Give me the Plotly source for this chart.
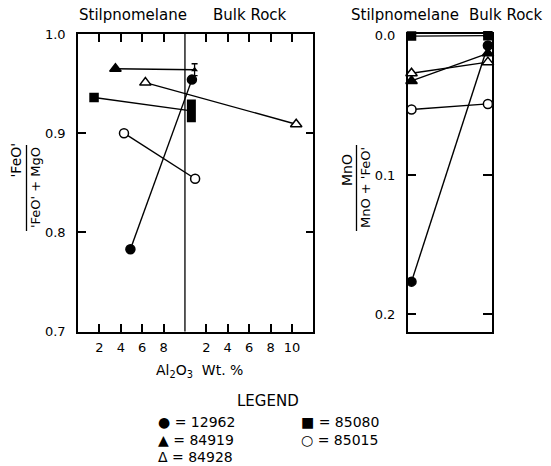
import plotly.graph_objects as go

# ---------------- data ----------------
samples = ["12962", "84919", "84928", "85080", "85015"]
# Al2O3 wt.% in stilpnomelane and in bulk rock
stilp_al2o3 = [4.9, 3.5, 6.3, 1.5, 4.3]
bulk_al2o3 = [0.65, 0.9, 10.4, 0.6, 0.95]
# 'FeO'/('FeO'+MgO)
stilp_fe = [0.783, 0.965, 0.951, 0.936, 0.900]
bulk_fe = [0.954, 0.964, 0.909, 0.9225, 0.854]
# bulk-rock ranges (error bar for 84919, bar for 85080)
bulk_fe_err_84919 = [0.006]
bulk_fe_range_85080 = [0.911, 0.934]
# MnO/(MnO+'FeO')
stilp_mn = [0.1766, 0.0325, 0.027, 0.0003, 0.053]
bulk_mn = [0.007, 0.0127, 0.019, 0.0, 0.049]

x_tick_vals_stilp = [2, 4, 6, 8]
x_tick_vals_bulk = [2, 4, 6, 8, 10]
y_left_ticks = [0.7, 0.8, 0.9, 1.0]
y_right_ticks = [0.0, 0.1, 0.2]
BULK_OFFSET = 10  # bulk rock scale starts where stilpnomelane scale (0-10) ends

# ---------------- styles ----------------
W, H = 551, 466
FONT = "DejaVu Sans"
sym = {"12962": ("circle", "black", 9), "84919": ("triangle-up", "black", 10),
       "84928": ("triangle-up", "white", 10), "85080": ("square", "black", 8),
       "85015": ("circle", "white", 9)}

def px(x):
    return x / W

def py(y):
    return 1 - y / H

fig = go.Figure()

bulk_plot_x = [BULK_OFFSET + b for b in bulk_al2o3]

# connecting lines
for i, s in enumerate(samples):
    fig.add_trace(go.Scatter(x=[stilp_al2o3[i], bulk_plot_x[i]], y=[stilp_fe[i], bulk_fe[i]],
                             mode="lines", line=dict(color="black", width=1.4),
                             xaxis="x", yaxis="y", showlegend=False, hoverinfo="skip"))
    fig.add_trace(go.Scatter(x=[0, 1], y=[stilp_mn[i], bulk_mn[i]],
                             mode="lines", line=dict(color="black", width=1.4),
                             xaxis="x2", yaxis="y2", showlegend=False, hoverinfo="skip"))

# 85080 bulk-rock bar
i80 = samples.index("85080")
fig.add_trace(go.Scatter(x=[bulk_plot_x[i80]] * 2, y=bulk_fe_range_85080, mode="lines",
                         line=dict(color="black", width=9), xaxis="x", yaxis="y",
                         showlegend=False, hoverinfo="skip"))
# 84919 bulk-rock with error bar
i19 = samples.index("84919")
fig.add_trace(go.Scatter(x=[bulk_plot_x[i19]], y=[bulk_fe[i19]], mode="markers",
                         marker=dict(symbol="triangle-up", size=6, color="black"),
                         error_y=dict(type="data", array=bulk_fe_err_84919, color="black",
                                      thickness=1.3, width=3),
                         xaxis="x", yaxis="y", showlegend=False, hoverinfo="skip"))

# markers
for i, s in enumerate(samples):
    symb, fill, size = sym[s]
    mk = dict(symbol=symb, size=size, color=fill, line=dict(color="black", width=1.5))
    xs = [stilp_al2o3[i]]
    ys = [stilp_fe[i]]
    if s not in ("84919", "85080"):
        xs.append(bulk_plot_x[i])
        ys.append(bulk_fe[i])
    fig.add_trace(go.Scatter(x=xs, y=ys, mode="markers", marker=mk, xaxis="x", yaxis="y",
                             showlegend=False, cliponaxis=False))
    fig.add_trace(go.Scatter(x=[0, 1], y=[stilp_mn[i], bulk_mn[i]], mode="markers", marker=mk,
                             xaxis="x2", yaxis="y2", showlegend=False, cliponaxis=False))

ydom = [py(331.5), py(34)]
axis_common = dict(showgrid=False, zeroline=False, showline=True, linecolor="black",
                   linewidth=1.5, ticks="inside", tickcolor="black", tickwidth=1.5,
                   automargin=False,
                   tickfont=dict(family=FONT, size=13, color="black"))

fig.update_layout(
    width=W, height=H, margin=dict(l=0, r=0, t=0, b=0, pad=0, autoexpand=False),
    paper_bgcolor="white", plot_bgcolor="white", showlegend=False,
    xaxis=dict(domain=[px(78), px(313.3)], range=[0, 22], mirror="ticks", ticklen=8,
               tickvals=x_tick_vals_stilp + [BULK_OFFSET + v for v in x_tick_vals_bulk],
               ticktext=[str(v) for v in x_tick_vals_stilp] + [str(v) for v in x_tick_vals_bulk],
               ticklabelstandoff=3, anchor="y", **axis_common),
    yaxis=dict(domain=ydom, range=[0.7, 1.0], mirror="ticks", ticklen=8,
               tickvals=y_left_ticks, ticktext=[f"{v:.1f}" for v in y_left_ticks],
               ticklabelstandoff=8, anchor="x", **axis_common),
    xaxis2=dict(domain=[px(407.7), px(491.7)], range=[-0.05, 1.05], mirror=True,
                showticklabels=False, anchor="y2",
                **{k: v for k, v in axis_common.items() if k != "ticks"}, ticks=""),
    yaxis2=dict(domain=ydom, range=[0.2124, -0.0012], mirror="ticks", ticklen=9,
                tickvals=y_right_ticks, ticktext=[f"{v:.1f}" for v in y_right_ticks],
                ticklabelstandoff=8, anchor="x2", **axis_common),
)

# divider between stilpnomelane and bulk rock scales
fig.add_shape(type="line", xref="x", yref="y domain", x0=BULK_OFFSET, x1=BULK_OFFSET,
              y0=0, y1=1, line=dict(color="black", width=1.3))

def ann(text, x, y, size=14, angle=0, xanchor="center"):
    fig.add_annotation(text=text, x=px(x), y=py(y), xref="paper", yref="paper",
                       showarrow=False, textangle=angle, xanchor=xanchor, yanchor="middle",
                       font=dict(family=FONT, size=size, color="black"))

# headers
ann("Stilpnomelane", 132.5, 15, size=15)
ann("Bulk Rock", 250, 15, size=15)
ann("Stilpnomelane", 405, 15, size=15)
ann("Bulk Rock", 506, 15, size=15)

# y titles as fractions
ann("'FeO'", 15.5, 160, size=14, angle=-90)
ann("'FeO' + MgO", 36, 188, size=13, angle=-90)
fig.add_shape(type="line", xref="paper", yref="paper", x0=px(26.5), x1=px(26.5),
              y0=py(145), y1=py(231), line=dict(color="black", width=1.3))
ann("MnO", 347, 170, size=14, angle=-90)
ann("MnO + 'FeO'", 366, 188, size=13, angle=-90)
fig.add_shape(type="line", xref="paper", yref="paper", x0=px(356.5), x1=px(356.5),
              y0=py(145), y1=py(231), line=dict(color="black", width=1.3))

# x title
ann("Al<sub>2</sub>O<sub>3</sub>  Wt. %", 199, 371, size=14)

# legend
ann("LEGEND", 267.5, 401, size=15)
legend_sym = {"12962": "●", "84919": "▲", "84928": "Δ", "85080": "■", "85015": "○"}
legend_pos = {"12962": (156, 422), "84919": (156, 440), "84928": (156, 457),
              "85080": (299, 422), "85015": (299, 440)}
for s in samples:
    x, y = legend_pos[s]
    ann(f"{legend_sym[s]} = {s}", x, y, size=14, xanchor="left")

fig.write_html(
    "out.html",
    config={"displayModeBar": False},
    post_script="document.body.style.margin='0';document.body.style.padding='0';"
                "document.body.style.overflow='hidden';",
)
